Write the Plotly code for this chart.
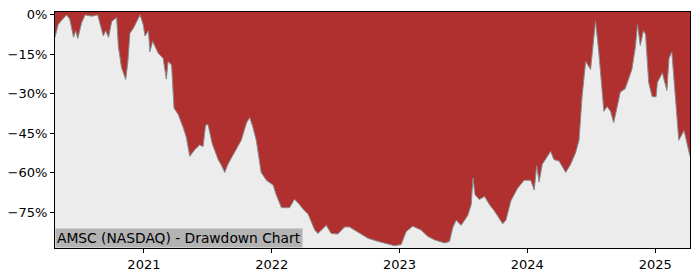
import plotly.graph_objects as go

dates = [
    "2020-04-22", "2020-05-01", "2020-05-11", "2020-05-25", "2020-06-03", "2020-06-14",
    "2020-06-20", "2020-06-26", "2020-07-07", "2020-07-17", "2020-08-05", "2020-08-22",
    "2020-09-07", "2020-09-14", "2020-09-22", "2020-10-01", "2020-10-15", "2020-10-20",
    "2020-10-29", "2020-11-10", "2020-11-16", "2020-11-22", "2020-12-02", "2020-12-11",
    "2020-12-21", "2020-12-30", "2021-01-04", "2021-01-14", "2021-01-18", "2021-01-26",
    "2021-02-01", "2021-02-11", "2021-02-25", "2021-03-06", "2021-03-11", "2021-03-21",
    "2021-03-28", "2021-04-09", "2021-04-23", "2021-05-02", "2021-05-12", "2021-05-26",
    "2021-06-09", "2021-06-19", "2021-06-26", "2021-07-03", "2021-07-15", "2021-08-01",
    "2021-08-10", "2021-08-20", "2021-08-29", "2021-09-17", "2021-10-06", "2021-10-21",
    "2021-10-30", "2021-11-07", "2021-11-18", "2021-12-02", "2021-12-17", "2022-01-05",
    "2022-01-14", "2022-01-29", "2022-02-21", "2022-03-07", "2022-03-17", "2022-04-05",
    "2022-04-15", "2022-05-04", "2022-05-13", "2022-06-06", "2022-06-20", "2022-07-09",
    "2022-07-28", "2022-08-11", "2022-09-09", "2022-10-03", "2022-11-01", "2022-11-19",
    "2022-12-18", "2023-01-06", "2023-01-20", "2023-02-08", "2023-03-04", "2023-03-23",
    "2023-04-11", "2023-05-10", "2023-05-24", "2023-06-03", "2023-06-12", "2023-06-26",
    "2023-07-15", "2023-07-25", "2023-07-30", "2023-08-05", "2023-08-17", "2023-09-01",
    "2023-09-15", "2023-09-29", "2023-10-23", "2023-11-01", "2023-11-15", "2023-12-04",
    "2023-12-23", "2024-01-11", "2024-01-21", "2024-01-28", "2024-02-04", "2024-02-13",
    "2024-03-08", "2024-03-17", "2024-04-01", "2024-04-20", "2024-05-04", "2024-05-18",
    "2024-05-28", "2024-06-06", "2024-06-16", "2024-06-30", "2024-07-07", "2024-07-14",
    "2024-07-23", "2024-08-07", "2024-08-16", "2024-08-26", "2024-09-04", "2024-09-14",
    "2024-09-23", "2024-10-07", "2024-10-17", "2024-10-26", "2024-11-05", "2024-11-11",
    "2024-11-19", "2024-11-28", "2024-12-04", "2024-12-13", "2024-12-23", "2025-01-03",
    "2025-01-07", "2025-01-21", "2025-02-03", "2025-02-09", "2025-02-17", "2025-02-28",
    "2025-03-09", "2025-03-24", "2025-04-02", "2025-04-10",
]

drawdown = [
    -8.5, -3.7, -2.0, 0.0, -1.5, -8.5,
    -6.0, -9.0, -3.0, 0.0, -0.5, 0.0,
    -8.0, -6.0, -8.5, -2.5, -1.0, -12.0,
    -20.0, -24.5, -18.0, -7.0, -5.0, -2.5,
    0.0, -3.7, -8.0, -6.0, -14.0, -10.0,
    -11.6, -14.6, -16.5, -24.4, -17.7, -19.0,
    -35.4, -37.8, -42.7, -46.4, -53.7, -51.2,
    -49.4, -50.0, -42.0, -41.5, -48.8, -54.9,
    -57.0, -59.8, -56.7, -52.4, -47.6, -41.0,
    -39.0, -42.0, -47.6, -59.8, -62.8, -64.6,
    -68.3, -73.2, -73.2, -70.0, -71.3, -74.4,
    -75.6, -81.7, -83.0, -79.9, -83.0, -83.2,
    -80.5, -80.5, -83.0, -84.8, -86.0, -86.6,
    -87.6, -87.2, -82.3, -80.2, -81.7, -84.1,
    -85.4, -86.6, -86.0, -80.5, -78.0, -79.9,
    -76.2, -72.0, -62.0, -68.3, -70.1, -68.9,
    -72.0, -74.4, -79.3, -78.0, -70.7, -65.9,
    -62.8, -62.8, -66.5, -57.3, -63.4, -56.7,
    -51.8, -54.9, -55.5, -59.8, -56.7, -52.4,
    -47.6, -30.5, -17.7, -20.7, -11.0, -2.5,
    -13.4, -36.6, -34.8, -36.6, -40.9, -34.1,
    -29.3, -28.0, -24.4, -20.7, -12.2, -3.7,
    -11.6, -6.0, -7.3, -25.6, -31.1, -31.1,
    -25.6, -22.0, -28.7, -16.5, -14.0, -32.9,
    -47.6, -43.9, -48.8, -53.7,
]

y_ticks = [0, -15, -30, -45, -60, -75]
y_tick_labels = ["0%", "\u221215%", "\u221230%", "\u221245%", "\u221260%", "\u221275%"]
x_ticks = ["2021-01-01", "2022-01-01", "2023-01-01", "2024-01-01", "2025-01-01"]
x_tick_labels = ["2021", "2022", "2023", "2024", "2025"]

y_min, y_max = -88.5, 1.1
title_text = "AMSC (NASDAQ) - Drawdown Chart"

fig = go.Figure()
# top boundary at the top of the axes
fig.add_trace(go.Scatter(
    x=dates, y=[y_max] * len(dates), mode="lines",
    line=dict(width=0, color="rgba(0,0,0,0)"), hoverinfo="skip", showlegend=False,
))
fig.add_trace(go.Scatter(
    x=dates, y=drawdown, mode="lines", fill="tonexty",
    fillcolor="#b03030", line=dict(color="#8a8a8a", width=1),
    showlegend=False,
))

fig.update_layout(
    width=700, height=280,
    margin=dict(l=53, r=10, t=8, b=28),
    paper_bgcolor="white", plot_bgcolor="#ececec",
    font=dict(family="DejaVu Sans", size=13, color="black"),
    showlegend=False,
)
fig.update_xaxes(
    range=[dates[0], dates[-1]], tickvals=x_ticks, ticktext=x_tick_labels,
    showgrid=False, zeroline=False, showline=True, linecolor="black", linewidth=1,
    mirror=True, ticks="outside", ticklen=4, tickcolor="black",
    tickfont=dict(family="DejaVu Sans", size=13, color="black"),
)
fig.update_yaxes(
    range=[y_min, y_max], tickvals=y_ticks, ticktext=y_tick_labels,
    showgrid=False, zeroline=False, showline=True, linecolor="black", linewidth=1,
    mirror=True, ticks="outside", ticklen=4, tickcolor="black",
    tickfont=dict(family="DejaVu Sans", size=13, color="black"),
)
fig.add_annotation(
    text=title_text, xref="paper", yref="paper", x=0, y=0,
    xanchor="left", yanchor="bottom", showarrow=False,
    bgcolor="#b3b3b3", borderpad=1,
    font=dict(family="DejaVu Sans", size=13.8, color="black"),
)

fig.write_html("out.html")
